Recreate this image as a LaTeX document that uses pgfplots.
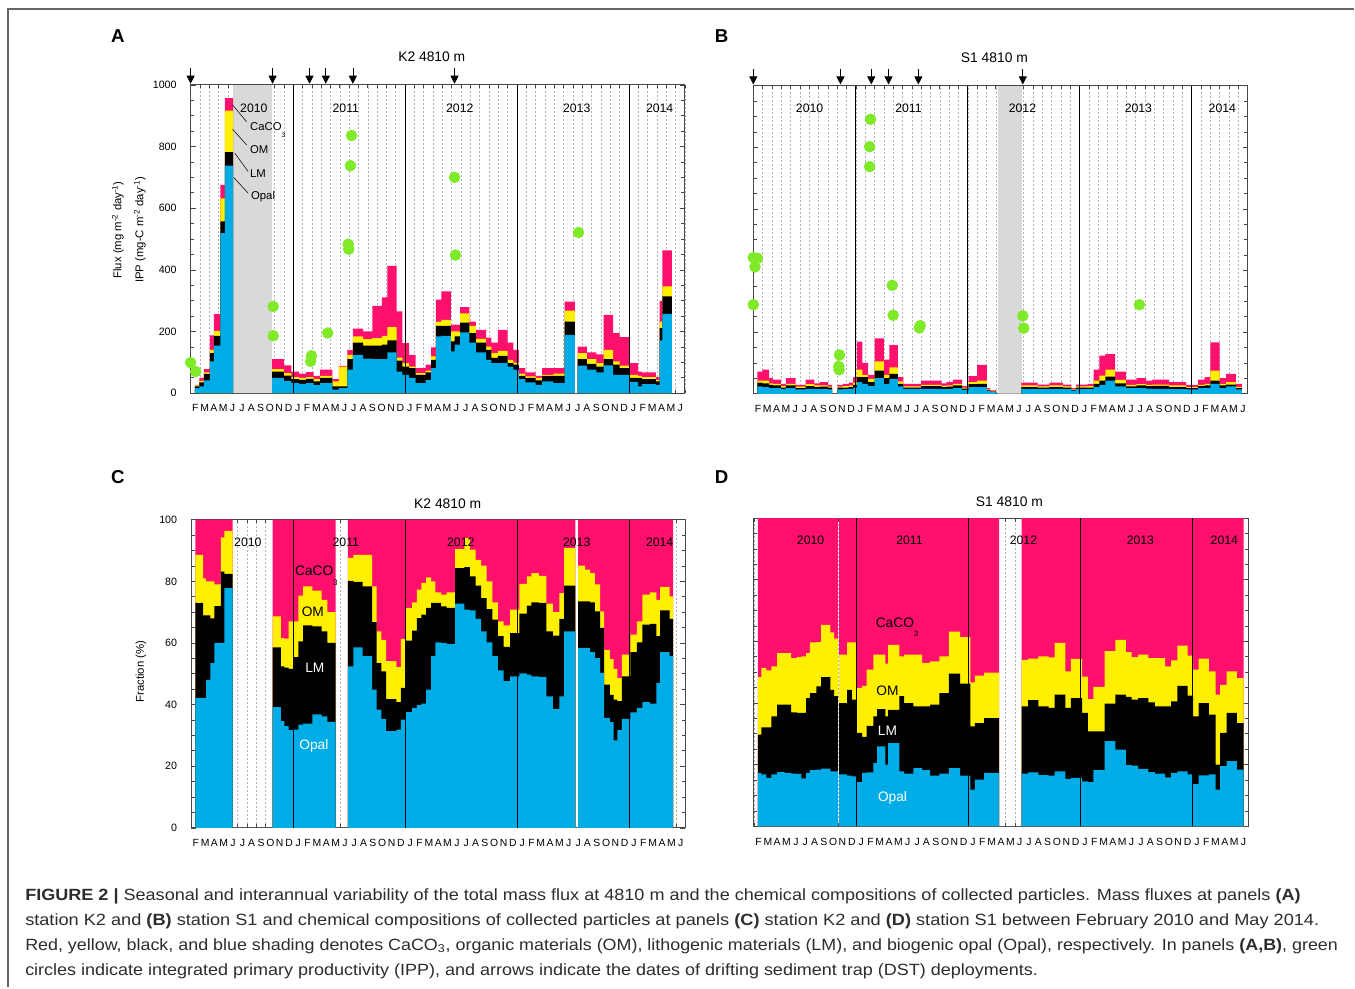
\documentclass[border=0pt]{standalone}
\usepackage{pgfplots}
\pgfplotsset{compat=1.18}
\usepackage{pgfplotstable}
\usepackage{graphicx}
\usepackage{fontspec}
\setmainfont{Liberation Sans}
\newfontfamily\capfont{Liberation Sans}
\usetikzlibrary{arrows.meta}
\definecolor{pinkc}{RGB}{255,16,108}
\definecolor{yelc}{RGB}{255,240,0}
\definecolor{bluec}{RGB}{0,172,230}
\definecolor{greenc}{RGB}{128,234,40}
\definecolor{shadec}{RGB}{217,217,217}
\definecolor{framec}{RGB}{70,70,70}
\definecolor{capc}{RGB}{45,45,45}
\newcommand\fs[1]{\fontsize{#1}{#1}\selectfont}

% Panel A: K2 flux, cumulative: tot (all), om (opal+LM+OM), lm (opal+LM), op (opal)
\pgfplotstableread{
x tot om lm op
0.46 27 25 22 16
0.93 49 40 35 22
1.43 78 67 62 41
2.07 187 140 130 103
2.5 256 202 186 154
3.2 676 632 557 519
3.68 957 917 782 738
4.57 0 0 0 0
8.75 110 78 70 49
10.0 90 65 57 40
10.8 70 52 45 32
11.65 63 49 43 30
12.4 68 52 46 32
13.2 56 45 38 27
13.9 76 56 49 32
15.2 45 38 22 11
15.9 88 86 22 16
16.8 140 124 110 76
17.4 209 184 164 124
18.5 200 175 154 112
19.5 283 178 154 110
20.5 311 186 157 110
21.1 413 214 171 132
22.1 265 115 105 70
22.7 162 97 86 59
23.43 124 86 81 49
24.14 81 65 59 32
25.2 92 73 67 43
25.8 148 119 108 81
26.3 303 232 218 184
26.9 330 238 218 186
27.9 222 200 168 135
28.3 222 200 184 157
28.9 279 259 229 197
29.9 232 218 195 164
30.6 205 176 164 132
31.7 180 151 140 108
32.25 164 130 114 97
32.96 205 137 121 97
34.0 164 108 97 86
34.6 140 99 92 76
35.2 81 63 56 45
35.9 67 54 49 35
37.0 56 49 41 27
37.7 81 59 56 38
38.9 81 63 56 32
40.1 297 268 232 189
41.2 0 0 0 0
41.5 151 130 110 89
42.5 132 110 95 76
43.5 126 97 86 67
44.3 254 140 110 90
45.3 195 103 92 59
46.0 182 89 81 59
47.1 97 59 49 36
48.0 70 56 49 22
48.4 67 52 45 29
49.9 52 43 38 27
50.3 299 232 211 171
50.6 463 346 314 257
51.6 0 0 0 0
}\tabA

% Panel B: S1 flux, cumulative as in A
\pgfplotstableread{
x tot om lm op
0.43 72 43 36 24
0.97 78 43 34 22
1.7 51 34 29 18
2.1 46 32 27 18
2.95 32 25 20 16
3.5 51 32 27 18
4.55 29 23 18 14
5.6 46 31 25 16
6.55 34 27 22 16
7.1 38 27 23 16
8.0 29 23 20 14
8.45 0 0 0 0
9.05 29 23 20 14
9.6 32 25 20 15
10.25 36 27 22 16
10.7 54 36 29 20
11.1 169 78 54 38
11.7 100 61 54 32
12.3 61 48 38 25
13.0 180 105 75 51
14.0 111 61 51 32
14.6 158 86 65 48
15.5 54 40 32 24
16.1 32 24 20 16
18.0 43 29 25 16
20.2 34 26 22 16
20.7 38 27 23 16
21.4 46 32 27 18
22.4 25 20 17 13
23.1 57 38 31 22
24.0 94 43 32 22
25.05 18 14 12 10
25.4 11 8 7 5
26.06 0 0 0 0
28.75 36 27 22 16
30.5 30 24 20 15
31.75 36 27 22 16
33.2 30 24 20 15
34.1 18 14 12 10
34.6 30 24 20 15
35.86 32 25 20 15
36.5 78 43 32 22
37.1 124 59 43 29
37.75 129 78 56 43
38.8 72 45 34 24
39.96 46 29 24 18
41.1 51 31 27 18
42.1 43 29 25 17
42.8 46 30 26 16
44.6 38 27 22 15
46.4 29 22 18 14
47.7 46 29 25 18
48.4 54 32 27 18
49.0 167 75 43 32
50.0 51 32 27 18
50.7 65 38 30 24
51.75 32 22 18 14
52.4 0 0 0 0
}\tabB

% Panel C: K2 fractions, cumulative boundaries (%)
\pgfplotstableread{
x top b3 b2 b1
0.46 100 88.6 73 42.2
1.3 100 81 69 42.2
1.6 100 80 69 48
2.07 100 80 68 53.5
2.5 100 79 72 60
3.2 100 94.3 83.2 60
3.57 100 96.4 82.4 77.8
4.46 0 0 0 0
8.75 100 68.6 58.6 39.2
9.64 100 61.6 52.4 34.6
10.0 100 61.4 52 33
10.46 100 67 51.6 31.7
11.0 100 67 55.4 31.9
11.5 100 75.4 60.5 33.5
12.0 100 78.4 65.7 33.8
13.0 100 77 65.4 36.8
14.0 100 74 63.8 36.2
14.6 100 70 60 34.4
15.5 0 0 0 0
16.8 100 87.6 80.2 52.4
17.4 100 88.6 79.8 58.6
18.4 100 88.6 78.4 55.7
19.4 100 78.4 66.8 44.9
19.9 100 63.8 53.5 38.4
20.4 100 61 50.8 35.4
20.9 100 54.1 41.8 31.4
22.0 100 52.2 40.8 31.9
22.5 100 61.3 45.4 35.1
23.07 100 71.4 60.8 37.6
23.7 100 73.2 64 38.9
24.2 100 77.3 68.1 39.8
24.7 100 79.5 69.2 40.3
25.2 100 81.3 71.4 44.9
25.75 100 80 73 55.7
26.2 100 76.4 73 60.2
26.8 100 75.7 71.9 60
27.4 100 76.4 71.4 59.7
28.3 100 90.5 84.3 72.8
29.3 100 94 84.6 70.8
29.9 100 90.3 81.6 70.6
30.5 100 87 78.6 67.8
31.1 100 85.1 74.6 63.8
31.7 100 80 71 60.2
32.3 100 73.2 67.6 55.7
32.9 100 67 62.2 51.1
33.5 100 65.7 58.7 47.6
34.2 100 70.8 63.2 49.2
35.2 100 79.2 69.5 50.1
36.0 100 81.6 72.1 49.7
36.5 100 82.7 73.2 49.2
37.3 100 81.8 73 49
38.1 100 72.8 63.8 42.7
38.8 100 70 62.4 38.6
39.5 100 76.2 67.8 42.7
40.0 100 90.8 78.6 63.8
41.2 0 0 0 0
41.5 100 85.1 73.5 58.4
42.25 100 83.8 73.5 58.4
42.8 100 82.7 73.2 57
43.3 100 79 70.3 55.1
43.85 100 70.3 64.9 50.3
44.3 100 57.8 46.5 35.7
44.9 100 54.8 43.2 34.3
45.3 100 51.6 41.6 28.4
45.7 100 48.6 41.1 31.7
46.2 100 56.2 49.2 35.4
47.1 100 62.7 57 37.5
47.8 100 67 60.2 38.9
48.4 100 75.7 66 40.8
49.2 100 76.4 66.2 40.3
49.9 100 74 62.2 47
50.3 100 78.2 70.6 57
51.3 100 75.1 67.8 55.7
51.7 0 0 0 0
}\tabC

% Panel D: S1 fractions, cumulative boundaries (%)
\pgfplotstableread{
x top b3 b2 b1
0.43 100 48.4 29.7 17.3
0.8 100 51.4 32.1 16.8
1.33 100 50.6 32.1 15.7
1.87 100 51.9 35.7 16.8
2.5 100 56.2 39.5 17.6
3.3 100 56.2 39.5 17.3
4.0 100 54.6 37 17.1
4.6 100 54.9 36.8 17
5.1 100 55.1 36.8 15.5
5.6 100 56.2 41.6 17.3
6.0 100 59.7 43.2 18.2
6.7 100 59.8 45.4 18.4
7.2 100 65.4 48.4 18.7
8.2 100 62.9 44.3 17.8
8.6 100 60.9 42.2 17.8
9.0 0 0 0 0
9.15 100 55.7 40 16.8
10.0 100 59.7 44.3 16.4
10.5 100 59.7 41.1 16.2
11.05 100 44.9 30.3 14.3
11.6 100 45.6 29 17.3
12.1 100 50.8 32.6 17.5
12.8 100 55.7 35.7 20.5
13.2 100 55.7 38 25.9
14.1 100 52.8 35.7 20
14.4 100 58.9 37.8 27
15.6 100 55.1 42.2 17.8
16.1 100 55.7 40 17.1
17.1 100 55.7 38.9 18.9
18.05 100 53 38.9 18.2
18.9 100 53.5 39.5 16.4
19.9 100 55.1 43.2 17.1
20.9 100 63.2 49.5 18.9
22.1 100 61.4 46.3 16.4
23.2 100 46.7 32.4 11.9
23.7 100 48.9 33.5 15.1
24.7 100 49.9 35.1 17.3
26.3 0 0 0 0
28.7 100 54 38.9 17.1
29.4 100 54.4 40.9 17.5
30.5 100 55.1 38.9 16.6
31.6 100 54.8 38.4 16.4
32.25 100 59.5 42.7 17.8
33.4 100 50.3 38.4 15.4
34.0 100 54.3 41.6 15.7
35.2 100 48.6 36.8 14.6
35.8 100 41.3 30.8 14.3
36.4 100 45.2 30.8 18.2
37.6 100 56.8 39.8 27.6
38.75 100 60.5 42.7 24.9
39.9 100 56.5 42 19.8
40.5 100 54.9 41.1 19.7
41.2 100 55.7 41.6 18.6
42.3 100 54.6 40.2 17.6
43.0 100 54.6 38.9 17.1
44.1 100 51.9 38.9 15.9
44.75 100 53.8 40.5 17.3
45.4 100 58.6 45.6 17.8
46.5 100 55.4 42.4 16.8
47.1 100 50.8 35.7 13.7
47.7 100 54.4 40 16.5
48.8 100 50.3 36.2 16.8
49.5 100 42.7 20 11.9
50.0 100 45.9 30.3 19.5
50.7 100 50.3 36.8 21.1
51.8 100 48.1 33.5 18.4
52.5 0 0 0 0
}\tabD

\pgfplotsset{
  panel/.style={
    scale only axis, width=370.9pt, height=231.2pt,
    xmin=0, xmax=53, clip=false,
    axis line style={draw=framec, line width=0.75pt},
    xtick={0.5,1.5,...,52.5},
    xticklabels={F,M,A,M,J,J,A,S,O,N,D,J,F,M,A,M,J,J,A,S,O,N,D,J,F,M,A,M,J,J,A,S,O,N,D,J,F,M,A,M,J,J,A,S,O,N,D,J,F,M,A,M,J},
    minor xtick={0,1,...,53},
    xminorgrids,
    minor x grid style={dash pattern=on 1.5pt off 1.5pt, black!30, line width=0.4pt},
    every tick/.style={draw=framec, line width=0.5pt},
    major x tick style={draw opacity=0},
    tick align=inside,
    major tick length=3.75pt, minor tick length=2.6pt,
    /pgf/number format/assume math mode=true,
    /pgf/number format/1000 sep={},
    xticklabel style={font=\fs{7.8}, yshift=-5.2pt},
    yticklabel style={font=\fs{8}, xshift=-7pt},
  },
  compA/.style={draw=none, const plot mark left},
  arr/.style={black, line width=0.5pt, -{Triangle[length=6pt, width=6pt]}},
  dots/.style={only marks, mark=*, color=greenc, mark size=4.1pt},
}

\begin{document}
\begin{tikzpicture}[x=0.75pt, y=0.75pt]
\fill[white] (0,0) rectangle (1355,988);
\draw[black!60, line width=1.1pt] (8,0) -- (8,979) -- (1355,979);
\coordinate (pA) at (190.7,594.7);
\coordinate (pB) at (753.7,594);
\coordinate (pC) at (191.2,159.7);
\coordinate (pD) at (754.3,161.3);

% ---------------- Panel A ----------------
\begin{axis}[panel, at={(pA)}, anchor=south west,
  ymin=0, ymax=1000, ytick={0,200,...,1000}, minor y tick num=3]
\fill[shadec] (axis cs:4.57,0) rectangle (axis cs:8.75,1000);
\addplot[compA, fill=pinkc] table[x=x, y=tot]{\tabA} \closedcycle;
\addplot[compA, fill=yelc] table[x=x, y=om]{\tabA} \closedcycle;
\addplot[compA, fill=black] table[x=x, y=lm]{\tabA} \closedcycle;
\addplot[compA, fill=bluec] table[x=x, y=op]{\tabA} \closedcycle;
\draw[black, line width=0.6pt] (axis cs:11,0) -- (axis cs:11,1000) (axis cs:23,0) -- (axis cs:23,1000) (axis cs:35,0) -- (axis cs:35,1000) (axis cs:47,0) -- (axis cs:47,1000);
\addplot[dots] coordinates {
(0,99) (0.54,70) (8.86,281) (8.86,186) (12.96,121) (12.86,103) (14.7,195) (17.25,836) (17.14,738) (16.9,483) (16.96,467) (28.3,700) (28.4,448) (41.6,521)};
\addplot[arr, quiver={u=0, v=-50}] coordinates {
(0,1054) (8.79,1054) (12.75,1054) (14.5,1054) (17.4,1054) (28.3,1054)};
\end{axis}

% ---------------- Panel B ----------------
\begin{axis}[panel, at={(pB)}, anchor=south west,
  ymin=0, ymax=1000, ytick={0,200,...,1000}, yticklabels={}, minor y tick num=3]
\fill[shadec] (axis cs:26.2,0) rectangle (axis cs:28.8,1000);
\addplot[compA, fill=pinkc] table[x=x, y=tot]{\tabB} \closedcycle;
\addplot[compA, fill=yelc] table[x=x, y=om]{\tabB} \closedcycle;
\addplot[compA, fill=black] table[x=x, y=lm]{\tabB} \closedcycle;
\addplot[compA, fill=bluec] table[x=x, y=op]{\tabB} \closedcycle;
\draw[black, line width=0.6pt] (axis cs:11,0) -- (axis cs:11,1000) (axis cs:23,0) -- (axis cs:23,1000) (axis cs:35,0) -- (axis cs:35,1000) (axis cs:47,0) -- (axis cs:47,1000);
\addplot[dots] coordinates {
(0,442) (0.43,440) (0.18,412) (0,289) (9.24,126) (9.17,89) (9.2,78) (12.58,891) (12.47,802) (12.47,737) (14.9,352) (15.0,255) (17.9,221) (17.8,214) (28.9,253) (29.0,213) (41.4,289)};
\addplot[arr, quiver={u=0, v=-50}] coordinates {
(0,1054) (9.35,1054) (12.65,1054) (14.5,1054) (17.7,1054) (28.9,1054)};
\end{axis}

% ---------------- Panel C ----------------
\begin{axis}[panel, at={(pC)}, anchor=south west,
  ymin=0, ymax=100, ytick={0,20,...,100}, minor y tick num=3]
\addplot[compA, fill=pinkc] table[x=x, y=top]{\tabC} \closedcycle;
\addplot[compA, fill=yelc] table[x=x, y=b3]{\tabC} \closedcycle;
\addplot[compA, fill=black] table[x=x, y=b2]{\tabC} \closedcycle;
\addplot[compA, fill=bluec] table[x=x, y=b1]{\tabC} \closedcycle;
\draw[black, line width=0.6pt] (axis cs:11,0) -- (axis cs:11,100) (axis cs:23,0) -- (axis cs:23,100) (axis cs:35,0) -- (axis cs:35,100) (axis cs:47,0) -- (axis cs:47,100);
\end{axis}

% ---------------- Panel D ----------------
\begin{axis}[panel, at={(pD)}, anchor=south west,
  ymin=0, ymax=100, ytick={0,20,...,100}, yticklabels={}, minor y tick num=3]
\addplot[compA, fill=pinkc] table[x=x, y=top]{\tabD} \closedcycle;
\addplot[compA, fill=yelc] table[x=x, y=b3]{\tabD} \closedcycle;
\addplot[compA, fill=black] table[x=x, y=b2]{\tabD} \closedcycle;
\addplot[compA, fill=bluec] table[x=x, y=b1]{\tabD} \closedcycle;
\draw[black, line width=0.6pt] (axis cs:11,0) -- (axis cs:11,100) (axis cs:23,0) -- (axis cs:23,100) (axis cs:35,0) -- (axis cs:35,100) (axis cs:47,0) -- (axis cs:47,100);
\end{axis}

% ---------------- Texts ----------------
\node[font=\fs{14}\bfseries] at (118,952) {A};
\node[font=\fs{14}\bfseries] at (722,952) {B};
\node[font=\fs{14}\bfseries] at (118,511) {C};
\node[font=\fs{14}\bfseries] at (722,511) {D};

\node[font=\fs{10.4}] at (432,931) {K2 4810 m};
\node[font=\fs{10.4}] at (995,930) {S1 4810 m};
\node[font=\fs{10.4}] at (448,484) {K2 4810 m};
\node[font=\fs{10.4}] at (1010,486) {S1 4810 m};

\foreach \xx/\yy in {254/2010,346/2011,460/2012,577/2013,660/2014}
  \node[font=\fs{9.2}] at (\xx,880) {\yy};
\foreach \xx/\yy in {810/2010,909/2011,1023/2012,1139/2013,1223/2014}
  \node[font=\fs{9.2}] at (\xx,880) {\yy};
\foreach \xx/\yy in {248/2010,346/2011,461/2012,577/2013,660/2014}
  \node[font=\fs{9.2}] at (\xx,445) {\yy};
\foreach \xx/\yy in {811/2010,910/2011,1024/2012,1141/2013,1225/2014}
  \node[font=\fs{9.2}] at (\xx,447) {\yy};

\node[font=\fs{8.5}, rotate=90] at (118,758) {Flux (mg m\textsuperscript{-2} day\textsuperscript{-1})};
\node[font=\fs{8.5}, rotate=90] at (140,758) {IPP (mg-C m\textsuperscript{-2} day\textsuperscript{-1})};
\node[font=\fs{8.5}, rotate=90] at (141,316) {Fraction (\%)};

% component labels panel A
\draw[black, line width=0.4pt] (232.7,883) -- (246.7,866.3) (232.7,858.7) -- (246.7,843) (235,834.7) -- (248.3,816.3) (234,810.3) -- (248.3,794.7);
\node[font=\fs{8.5}, anchor=base west, inner sep=0] at (250,857.2) {CaCO\raisebox{-5pt}{\fs{5}3}};
\node[font=\fs{8.5}, anchor=west, inner sep=0] at (250,838) {OM};
\node[font=\fs{8.5}, anchor=west, inner sep=0] at (250,814) {LM};
\node[font=\fs{8.5}, anchor=west, inner sep=0] at (251,791) {Opal};

% component labels panel C
\node[font=\fs{10.3}, anchor=base west, inner sep=0] at (295,412) {CaCO\raisebox{-7pt}{\fs{6}3}};
\node[font=\fs{10.3}] at (313,376) {OM};
\node[font=\fs{10.3}, text=white] at (315,320) {LM};
\node[font=\fs{10.3}, text=white] at (314,242) {Opal};

% component labels panel D
\node[font=\fs{10.3}, anchor=base west, inner sep=0] at (876,360) {CaCO\raisebox{-7pt}{\fs{6}3}};
\node[font=\fs{10.3}] at (888,297) {OM};
\node[font=\fs{10.3}, text=white] at (888,257) {LM};
\node[font=\fs{10.3}, text=white] at (893,190) {Opal};

% caption
\node[anchor=base west, inner sep=0] at (25,87) {\resizebox{957pt}{\height}{\capfont\fs{12.2}\color{capc}\textbf{FIGURE 2 |} Seasonal and interannual variability of the total mass flux at 4810 m and the chemical compositions of collected particles. Mass fluxes at panels \textbf{(A)}}};
\node[anchor=base west, inner sep=0] at (25,62) {\resizebox{971pt}{\height}{\capfont\fs{12.2}\color{capc}station K2 and \textbf{(B)} station S1 and chemical compositions of collected particles at panels \textbf{(C)} station K2 and \textbf{(D)} station S1 between February 2010 and May 2014.}};
\node[anchor=base west, inner sep=0] at (25,37) {\resizebox{985pt}{\height}{\capfont\fs{12.2}\color{capc}Red, yellow, black, and blue shading denotes CaCO\textsubscript{3}, organic materials (OM), lithogenic materials (LM), and biogenic opal (Opal), respectively. In panels \textbf{(A,B)}, green}};
\node[anchor=base west, inner sep=0] at (25,12) {\resizebox{760pt}{\height}{\capfont\fs{12.2}\color{capc}circles indicate integrated primary productivity (IPP), and arrows indicate the dates of drifting sediment trap (DST) deployments.}};
\end{tikzpicture}
\end{document}
